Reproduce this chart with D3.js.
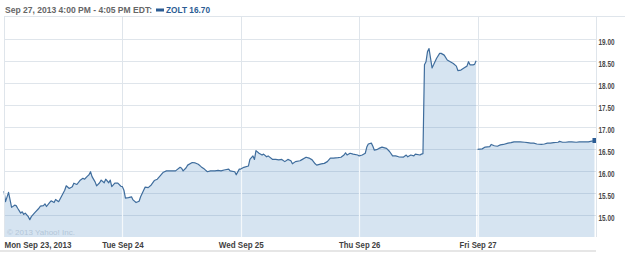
<!DOCTYPE html>
<html><head><meta charset="utf-8">
<script src="https://cdn.jsdelivr.net/npm/d3@7"></script>
<style>
html,body{margin:0;padding:0;background:#fff;}
svg{display:block;}
text{font-family:"Liberation Sans",Arial,sans-serif;}
</style></head>
<body><svg id="c" width="625" height="253"></svg>
<script>
// ---- data ----
const dayLabels = ["Mon Sep 23, 2013", "Tue Sep 24", "Wed Sep 25", "Thu Sep 26", "Fri Sep 27"];
const yTicks = [15.0, 15.5, 16.0, 16.5, 17.0, 17.5, 18.0, 18.5, 19.0];
const titleText = "Sep 27, 2013 4:00 PM - 4:05 PM EDT:";
const symbol = "ZOLT";
const lastPrice = 16.70;
// [minutes since 9:30 open, price]
const mon = [[0,15.55],[5,15.31],[15,15.52],[25,15.18],[35,15.23],[40,15.22],[45,15.16],[55,15.05],[60,15.08],[65,15.02],[70,15.05],[80,14.97],[85,14.90],[90,14.97],[100,15.05],[115,15.16],[120,15.21],[130,15.22],[135,15.26],[140,15.20],[150,15.29],[155,15.33],[165,15.29],[170,15.36],[180,15.31],[190,15.44],[200,15.57],[205,15.67],[215,15.61],[225,15.65],[230,15.73],[240,15.70],[250,15.79],[260,15.84],[265,15.82],[275,15.89],[280,15.92],[285,15.99],[290,15.88],[300,15.76],[305,15.67],[315,15.74],[320,15.80],[330,15.74],[335,15.82],[345,15.74],[350,15.80],[355,15.65],[365,15.73],[375,15.73],[385,15.66]];
const tue = [[0,15.65],[5,15.57],[10,15.39],[20,15.40],[30,15.42],[35,15.35],[45,15.29],[55,15.32],[60,15.42],[70,15.57],[75,15.64],[85,15.63],[95,15.69],[105,15.79],[115,15.82],[125,15.90],[135,15.98],[145,16.01],[160,16.01],[175,16.01],[190,16.09],[195,16.07],[200,16.01],[210,16.08],[215,16.14],[230,16.20],[240,16.19],[250,16.16],[260,16.10],[270,16.05],[280,15.99],[290,16.01],[305,16.01],[315,16.02],[325,16.01],[335,16.03],[350,16.05],[355,16.01],[370,15.99],[375,15.92],[385,16.05]];
const wed = [[0,16.05],[10,16.09],[25,16.12],[30,16.27],[40,16.35],[45,16.27],[50,16.47],[60,16.41],[70,16.37],[75,16.39],[85,16.33],[90,16.35],[105,16.27],[115,16.27],[125,16.26],[135,16.27],[145,16.22],[155,16.27],[165,16.24],[170,16.17],[180,16.22],[195,16.24],[200,16.26],[215,16.32],[225,16.30],[235,16.26],[245,16.17],[250,16.14],[265,16.17],[275,16.18],[285,16.22],[295,16.30],[305,16.30],[320,16.31],[330,16.32],[340,16.37],[345,16.42],[350,16.37],[360,16.41],[370,16.39],[385,16.37]];
const thu = [[0,16.35],[10,16.37],[20,16.41],[25,16.55],[30,16.62],[40,16.64],[45,16.57],[50,16.48],[60,16.50],[65,16.52],[75,16.55],[90,16.52],[100,16.45],[110,16.35],[120,16.35],[130,16.33],[145,16.32],[155,16.37],[160,16.33],[170,16.37],[180,16.35],[185,16.39],[200,16.37],[205,16.39],[210,16.40],[215,18.42],[220,18.49],[225,18.72],[230,18.79],[235,18.57],[240,18.35],[245,18.42],[255,18.57],[265,18.68],[270,18.68],[280,18.64],[290,18.53],[300,18.49],[310,18.45],[320,18.39],[325,18.29],[335,18.30],[345,18.35],[355,18.39],[360,18.49],[365,18.42],[375,18.42],[380,18.43],[385,18.51]];
const fri = [[0,16.50],[15,16.51],[25,16.55],[40,16.56],[45,16.61],[55,16.58],[65,16.57],[75,16.60],[85,16.61],[100,16.64],[110,16.65],[120,16.67],[130,16.67],[140,16.67],[155,16.66],[165,16.65],[175,16.64],[185,16.64],[195,16.62],[210,16.61],[220,16.62],[230,16.64],[240,16.64],[250,16.65],[265,16.66],[270,16.68],[280,16.66],[290,16.66],[300,16.67],[310,16.67],[325,16.66],[335,16.67],[345,16.67],[355,16.67],[365,16.67],[380,16.69],[385,16.70]];
const days = [mon, tue, wed, thu, fri];
const gapBefore = [false, false, false, false, true]; // no trading line between Thu close and Fri open

// ---- layout ----
const W = 625, H = 253;
const L = 4, R = 596, T = 17, B = 237;
const session = 390;
const svg = d3.select("#c");

const x = d3.scaleLinear().domain([0, session * days.length]).range([L, R]);
const y = d3.scaleLinear().domain([14.5, 19.5]).range([B + 0.3, T + 0.3]);

// build points with breaks
const pts = [];
days.forEach((d, i) => {
  if (gapBefore[i]) pts.push(null);
  d.forEach(p => pts.push({t: i * session + p[0], v: p[1]}));
});

const gridCol = "#dfe5eb";

// horizontal gridlines
svg.append("g").selectAll("line").data(yTicks).join("line")
  .attr("x1", L).attr("x2", R)
  .attr("y1", d => Math.round(y(d)) + 0.5).attr("y2", d => Math.round(y(d)) + 0.5)
  .attr("stroke", gridCol).attr("stroke-width", 1);

// vertical gridlines (behind)
const dayStarts = days.map((d, i) => i * session);
svg.append("g").selectAll("line").data(dayStarts.slice(1)).join("line")
  .attr("x1", d => Math.round(x(d)) + 0.5).attr("x2", d => Math.round(x(d)) + 0.5)
  .attr("y1", T).attr("y2", B)
  .attr("stroke", gridCol).attr("stroke-width", 1);

// area
const area = d3.area().defined(d => d !== null)
  .x(d => x(d.t)).y0(B).y1(d => y(d.v));
const areaPath = area(pts);
svg.append("clipPath").attr("id", "ac").append("path").attr("d", areaPath);
svg.append("path").attr("d", areaPath).attr("fill", "rgba(70,130,190,0.22)");

// vertical gridlines over fill (whitish)
svg.append("g").attr("clip-path", "url(#ac)").selectAll("line").data(dayStarts.slice(1)).join("line")
  .attr("x1", d => Math.round(x(d)) + 0.5).attr("x2", d => Math.round(x(d)) + 0.5)
  .attr("y1", T).attr("y2", B)
  .attr("stroke", "#f4f8fb").attr("stroke-width", 1.2);

// copyright
svg.append("text").attr("x", 7).attr("y", 234.5)
  .attr("font-size", 8).attr("fill", "#b3c6d8")
  .text("\u00A9 2013 Yahoo! Inc.");

// line
const line = d3.line().defined(d => d !== null)
  .x(d => x(d.t)).y(d => y(d.v));
svg.append("path").attr("d", line(pts))
  .attr("fill", "none").attr("stroke", "#3f6d9d").attr("stroke-width", 1.2)
  .attr("stroke-linejoin", "round");

// last point marker
const last = pts[pts.length - 1];
svg.append("rect").attr("x", x(last.t) - 2).attr("y", y(last.v) - 2.5)
  .attr("width", 4).attr("height", 5).attr("fill", "#2b5c94");

// frame
svg.append("line").attr("x1", L).attr("x2", W).attr("y1", T - 0.5).attr("y2", T - 0.5).attr("stroke", gridCol);
svg.append("line").attr("x1", L + 0.5).attr("x2", L + 0.5).attr("y1", T).attr("y2", B).attr("stroke", gridCol);
svg.append("line").attr("x1", R + 0.5).attr("x2", R + 0.5).attr("y1", T).attr("y2", B).attr("stroke", gridCol);
svg.append("line").attr("x1", 0).attr("x2", R).attr("y1", 251).attr("y2", 251).attr("stroke", "#e6e6e6").attr("stroke-width", 2);

// y axis
const yAxis = d3.axisRight(y).tickValues(yTicks).tickFormat(d3.format(".2f")).tickSize(0).tickPadding(0);
const ya = svg.append("g").attr("transform", `translate(${R + 2.5},0)`).call(yAxis);
ya.select(".domain").remove();
ya.selectAll("text").attr("font-family", "Liberation Sans, Arial, sans-serif")
  .attr("font-size", 9).attr("font-weight", "bold").attr("fill", "#4a4a4a").attr("dy", "0.55em")
  .attr("textLength", 16).attr("lengthAdjust", "spacingAndGlyphs");

// x axis
const xAxis = d3.axisBottom(x).tickValues(dayStarts).tickFormat((d, i) => dayLabels[i]).tickSize(0).tickPadding(0);
const xa = svg.append("g").attr("transform", `translate(0,${B + 3})`).call(xAxis);
xa.select(".domain").remove();
const xw = [67, 41.5, 45, 41.5, 37];
xa.selectAll("text").attr("font-family", "Liberation Sans, Arial, sans-serif")
  .attr("font-size", 9).attr("font-weight", "bold").attr("fill", "#3f3f3f")
  .attr("text-anchor", (d, i) => i === 0 ? "start" : "middle")
  .attr("dy", "0.85em")
  .attr("textLength", (d, i) => xw[i]).attr("lengthAdjust", "spacingAndGlyphs");

// title
svg.append("text").attr("x", 5).attr("y", 12.5)
  .attr("font-size", 9).attr("font-weight", "bold").attr("fill", "#666")
  .attr("textLength", 147).attr("lengthAdjust", "spacingAndGlyphs")
  .text(titleText);
svg.append("rect").attr("x", 156).attr("y", 8.5).attr("width", 8).attr("height", 3).attr("fill", "#2b5c94");
svg.append("text").attr("x", 166).attr("y", 12.5)
  .attr("font-size", 9).attr("font-weight", "bold").attr("fill", "#2b5c94")
  .attr("textLength", 44).attr("lengthAdjust", "spacingAndGlyphs")
  .text(`${symbol} ${lastPrice.toFixed(2)}`);
</script>
</body></html>
